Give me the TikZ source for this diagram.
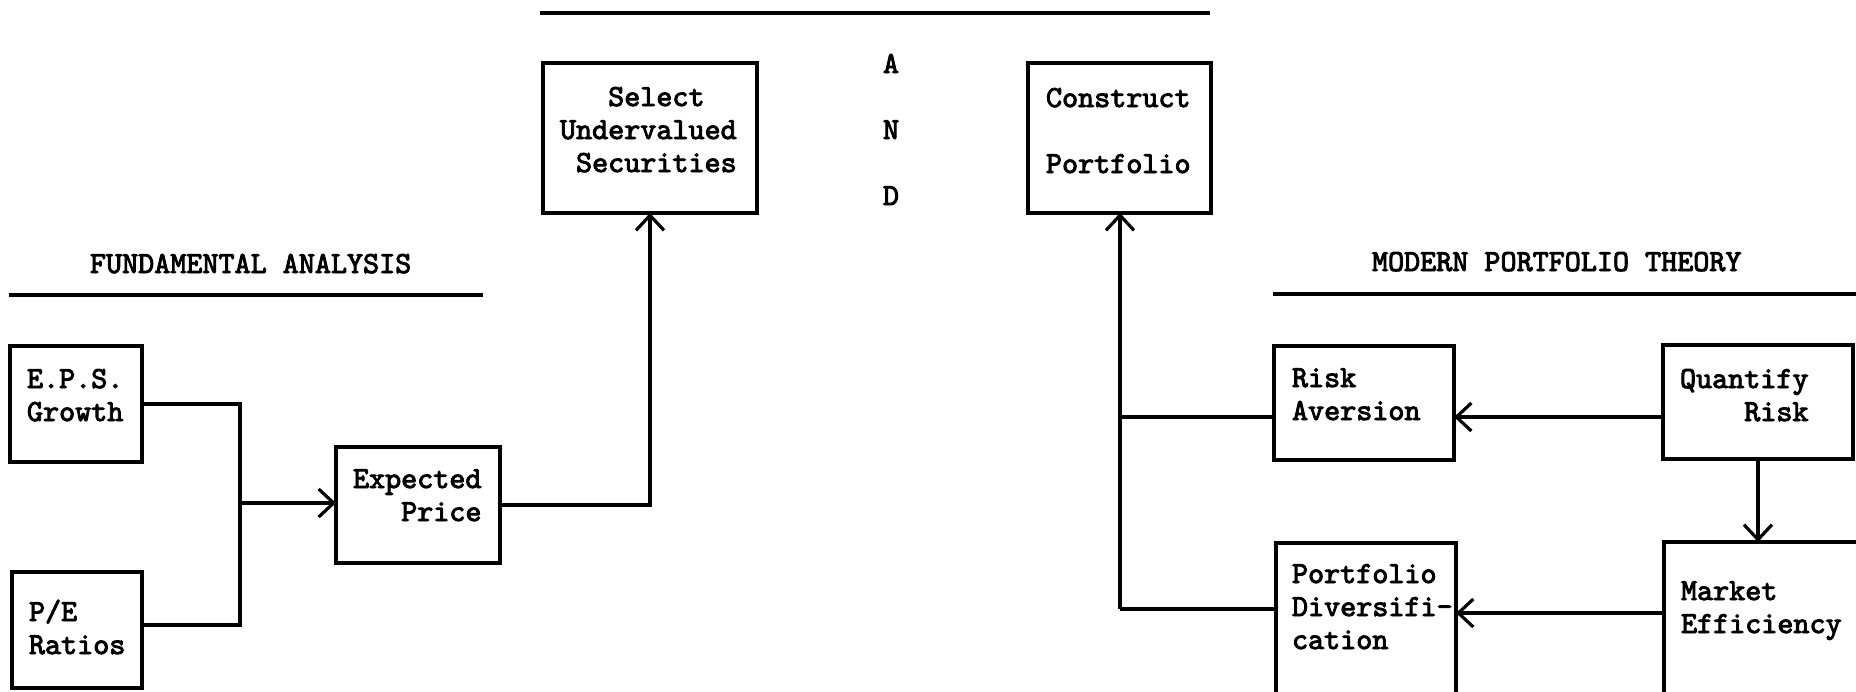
\documentclass[tikz,border=0pt]{standalone}
\usepackage{fontspec}
\newfontfamily\tw[FakeBold=3]{lmmono10-regular.otf}
\usetikzlibrary{arrows.meta}
\newcommand{\lstack}[1]{\vtop{\baselineskip=33pt\lineskiplimit=-100pt\relax #1}}
\begin{document}
\begin{tikzpicture}[x=1pt,y=-1pt,
  every node/.style={inner sep=0pt, outer sep=0pt},
  box/.style={draw, rectangle, line width=3.2pt},
  txt/.style={anchor=base west, font=\tw\fontsize{30.6}{33}\selectfont},
  ctxt/.style={anchor=base, font=\tw\fontsize{30.6}{33}\selectfont},
  link/.style={line width=3.2pt},
  arr/.style={link, -{Straight Barb[length=15pt,width=28pt]}},
]
\useasboundingbox (0,0) rectangle (1856,691);
\clip (0,0) rectangle (1856,691);

% rules and headings
\draw[link] (540,13) -- (1210,13);
\draw[link] (9,295) -- (483,295);
\draw[link] (1273,294) -- (1856,294);
\node[txt] (fa) at (90,273) {FUNDAMENTAL ANALYSIS};
\node[txt] (mpt) at (1372,271) {MODERN PORTFOLIO THEORY};
\node[ctxt] (a) at (891,73) {A};
\node[ctxt] (n) at (891,139) {N};
\node[ctxt] (d) at (891,205) {D};

% boxes
\node[box, minimum width=214pt, minimum height=150pt] (sel) at (650,138) {};
\node[box, minimum width=183pt, minimum height=150pt] (con) at (1119.5,138) {};
\node[box, minimum width=132pt, minimum height=116pt] (eps) at (76,404) {};
\node[box, minimum width=130pt, minimum height=116pt] (pe) at (77,630) {};
\node[box, minimum width=164pt, minimum height=116pt] (exp) at (418,505) {};
\node[box, minimum width=180pt, minimum height=114pt] (ra) at (1364,403) {};
\node[box, minimum width=190pt, minimum height=114pt] (qr) at (1758,402) {};
\node[box, minimum width=180pt, minimum height=177pt] (pd) at (1366,631.5) {};
\node[box, minimum width=216pt, minimum height=178pt] (mkt) at (1772,631) {};

% texts
\node[txt] (selt) at (560,106) {\lstack{\hbox{\hphantom{XXX}Select}\hbox{Undervalued}\hbox{\hphantom{X}Securities}}};
\node[txt] (cont) at (1046,107) {\lstack{\hbox{Construct}\vskip33pt\hbox{Portfolio}}};
\node[txt] (epst) at (27,388) {\lstack{\hbox{E.P.S.}\hbox{Growth}}};
\node[txt] (pet) at (29,621) {\lstack{\hbox{P/E}\hbox{Ratios}}};
\node[txt] (expt) at (353,488) {\lstack{\hbox{Expected}\hbox{\hphantom{XXX}Price}}};
\node[txt] (rat) at (1292,387) {\lstack{\hbox{Risk}\hbox{Aversion}}};
\node[txt] (qrt) at (1680,388) {\lstack{\hbox{Quantify}\hbox{\hphantom{XXXX}Risk}}};
\node[txt] (pdt) at (1292,583) {\lstack{\hbox{Portfolio}\hbox{Diversifi-}\hbox{cation}}};
\node[txt] (mktt) at (1681,600) {\lstack{\hbox{Market}\hbox{Efficiency}}};

% connectors
\coordinate (jn) at (240,503);
\draw[link] (eps.east) -| (jn) |- ([yshift=5pt]pe.east);
\draw[arr] (jn) -- (jn -| exp.west);
\draw[arr] (exp.east) -| (sel.south);

\coordinate (cj) at (1120,417);
\coordinate (cb) at (1120,609);
\draw[arr] (cb) -- (cb |- con.south);
\draw[link] (cj) -- (cj -| ra.west);
\draw[link] (cb) -- (cb -| pd.west);
\draw[arr] (cj -| qr.west) -- (cj -| ra.east);
\draw[arr] (qr.south) -- (qr.south |- mkt.north);
\coordinate (pm) at (1500,613);
\draw[arr] (pm -| mkt.west) -- (pm -| pd.east);
\end{tikzpicture}
\end{document}
